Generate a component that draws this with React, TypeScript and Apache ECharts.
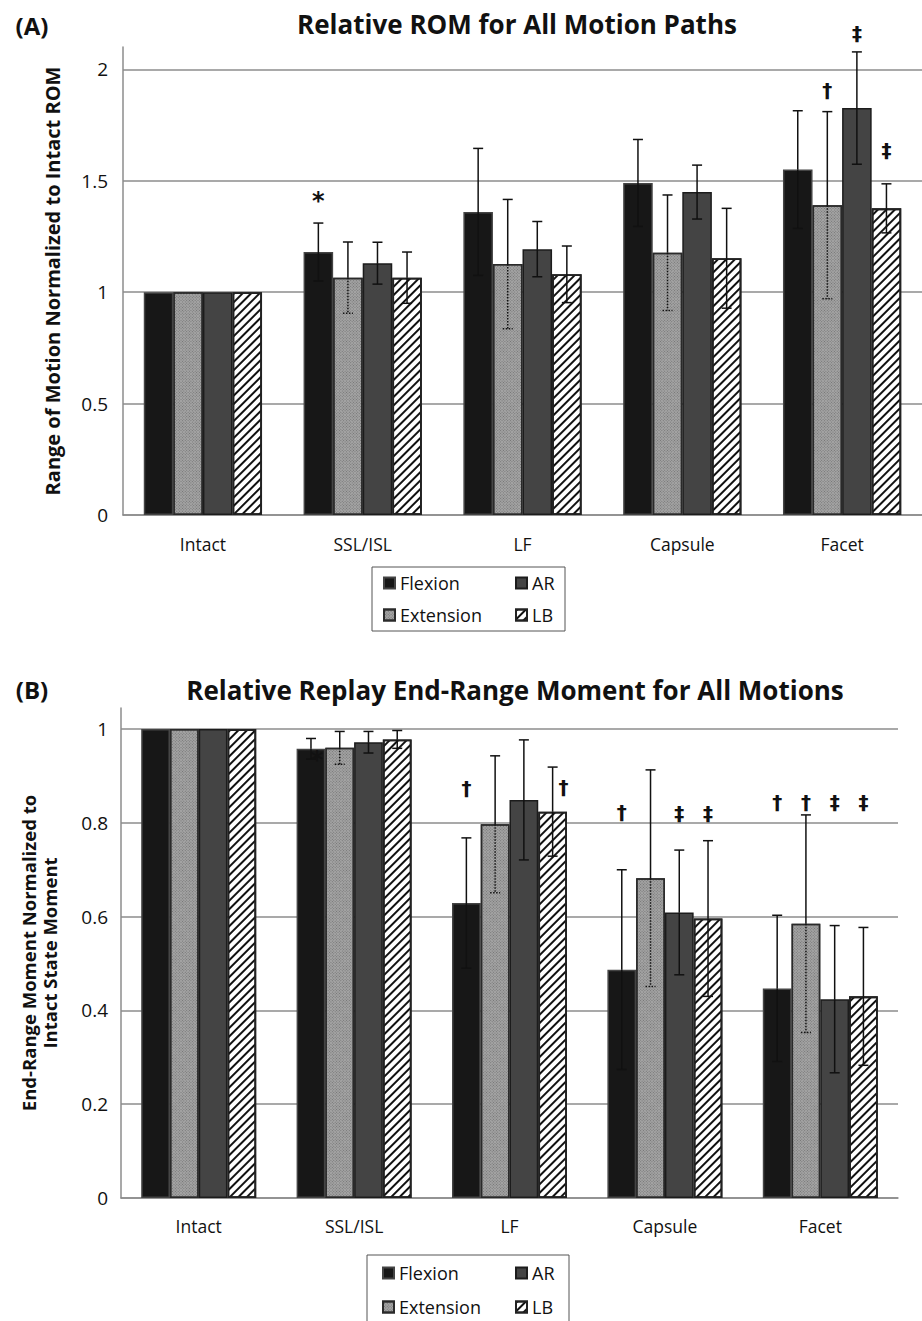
import React, { useEffect, useRef } from "react";
import * as echarts from "echarts";

// ---------- data ----------
const categories = ["Intact", "SSL/ISL", "LF", "Capsule", "Facet"];
const seriesNames = ["Flexion", "Extension", "AR", "LB"];

// Panel A: relative ROM (mean, SD)
const romFlexion = [1, 1.18, 1.36, 1.49, 1.55];
const romExtension = [1, 1.065, 1.126, 1.177, 1.39];
const romAR = [1, 1.13, 1.193, 1.449, 1.826];
const romLB = [1, 1.065, 1.08, 1.152, 1.376];
const romFlexionSD = [0, 0.13, 0.285, 0.195, 0.264];
const romExtensionSD = [0, 0.16, 0.29, 0.259, 0.42];
const romARSD = [0, 0.094, 0.124, 0.121, 0.252];
const romLBSD = [0, 0.115, 0.127, 0.224, 0.11];

// Panel B: relative end-range moment (mean, SD)
const momFlexion = [1, 0.958, 0.629, 0.487, 0.447];
const momExtension = [1, 0.96, 0.797, 0.682, 0.585];
const momAR = [1, 0.972, 0.849, 0.609, 0.424];
const momLB = [1, 0.978, 0.824, 0.596, 0.43];
const momFlexionSD = [0, 0.022, 0.139, 0.213, 0.156];
const momExtensionSD = [0, 0.035, 0.146, 0.231, 0.232];
const momARSD = [0, 0.023, 0.128, 0.133, 0.157];
const momLBSD = [0, 0.019, 0.095, 0.166, 0.147];

// significance markers: category index, series index, y value, symbol
const romAnnCat = [1, 4, 4, 4];
const romAnnSeries = [0, 1, 2, 3];
const romAnnY = [1.41, 1.907, 2.162, 1.637];
const romAnnSym = ["*", "†", "‡", "‡"];
const romAnnDx = [0, 0, 0, 0];

const momAnnCat = [1, 2, 2, 3, 3, 3, 4, 4, 4, 4];
const momAnnSeries = [0, 0, 3, 0, 2, 3, 0, 1, 2, 3];
const momAnnY = [0.935, 0.875, 0.877, 0.824, 0.822, 0.822, 0.845, 0.845, 0.845, 0.845];
const momAnnSym = ["*", "†", "†", "†", "‡", "‡", "†", "†", "‡", "‡"];
const momAnnDx = [6, 0, 11, 0, 0, 0, 0, 0, 0, 0];

const romTitle = "Relative ROM for All Motion Paths";
const momTitle = "Relative Replay End-Range Moment for All Motions";
const romYName = "Range of Motion Normalized to Intact ROM";
const momYName = "End-Range Moment Normalized to\nIntact State Moment";

// ---------- styles ----------
const FONT = '"Open Sans", Lato, sans-serif';
const GAP = 0.26;
const GRID_COLOR = "#8c8c8c";

const itemStyles: any[] = [
  { color: "#171717", borderColor: "#444444", borderWidth: 1.5 },
  {
    color: "#a4a4a4",
    borderColor: "#2a2a2a",
    borderWidth: 1.5,
    decal: {
      symbol: "rect",
      symbolSize: 1,
      dashArrayX: [1, 1],
      dashArrayY: [1, 1],
      rotation: Math.PI / 4,
      color: "#747474",
    },
  },
  { color: "#444444", borderColor: "#1c1c1c", borderWidth: 1.5 },
  {
    color: "#ffffff",
    borderColor: "#222222",
    borderWidth: 1.8,
    decal: {
      symbol: "rect",
      symbolSize: 1,
      dashArrayX: [1, 0],
      dashArrayY: [2, 3.5],
      rotation: -Math.PI / 4,
      color: "#111111",
    },
  },
];

function barX(api: any, cat: number, s: number, v: number) {
  const c = api.coord([cat, v]);
  const band = api.size([1, 0])[0];
  const gw = band * (1 - GAP);
  const bw = gw / 4;
  return c[0] - gw / 2 + bw * (s + 0.5);
}

function errorRender(params: any, api: any) {
  const cat = api.value(0);
  const s = api.value(1);
  const m = api.value(2);
  const e = api.value(3);
  if (!e) return { type: "group", children: [] };
  const x = barX(api, cat, s, m);
  const yM = api.coord([cat, m])[1];
  const yT = api.coord([cat, m + e])[1];
  const yB = api.coord([cat, m - e])[1];
  const cap = 5;
  const solid = { stroke: "#111", lineWidth: 1.5 };
  const dashed = s === 1 ? { stroke: "#111", lineWidth: 1.5, lineDash: [1.5, 1.5] } : solid;
  return {
    type: "group",
    children: [
      { type: "line", shape: { x1: x, y1: yM, x2: x, y2: yT }, style: solid },
      { type: "line", shape: { x1: x, y1: yM, x2: x, y2: yB }, style: dashed },
      { type: "line", shape: { x1: x - cap, y1: yT, x2: x + cap, y2: yT }, style: solid },
      { type: "line", shape: { x1: x - cap, y1: yB, x2: x + cap, y2: yB }, style: dashed },
    ],
  };
}

function annRender(syms: string[]) {
  return (params: any, api: any) => {
    const cat = api.value(0);
    const s = api.value(1);
    const y = api.value(2);
    const dx = api.value(3);
    const x = barX(api, cat, s, y) + dx;
    const py = api.coord([cat, y])[1];
    const sym = syms[params.dataIndex];
    return {
      type: "text",
      x,
      y: py,
      style: {
        text: sym,
        fill: "#111",
        fontSize: sym === "*" ? 24 : 20,
        fontWeight: "bold",
        fontFamily: "DejaVu Sans",
        align: "center",
        verticalAlign: "middle",
        textAlign: "center",
        textVerticalAlign: "middle",
      },
    };
  };
}

function buildPanel(
  idx: number,
  means: number[][],
  sds: number[][],
  annCat: number[],
  annSeries: number[],
  annY: number[],
  annSym: string[],
  annDx: number[]
) {
  const series: any[] = means.map((arr, s) => ({
    type: "bar",
    name: seriesNames[s],
    xAxisIndex: idx,
    yAxisIndex: idx,
    data: arr,
    barGap: "0%",
    barCategoryGap: GAP * 100 + "%",
    itemStyle: itemStyles[s],
    silent: true,
  }));
  const errData: number[][] = [];
  means.forEach((arr, s) => arr.forEach((m, c) => errData.push([c, s, m, sds[s][c]])));
  series.push({
    type: "custom",
    name: "err" + idx,
    xAxisIndex: idx,
    yAxisIndex: idx,
    data: errData,
    encode: { x: 0, y: 2 },
    renderItem: errorRender,
    silent: true,
    z: 5,
  });
  series.push({
    type: "custom",
    name: "ann" + idx,
    xAxisIndex: idx,
    yAxisIndex: idx,
    data: annCat.map((c, i) => [c, annSeries[i], annY[i], annDx[i]]),
    encode: { x: 0, y: 2 },
    renderItem: annRender(annSym),
    silent: true,
    clip: false,
    z: 6,
  });
  return series;
}

export default function App() {
  const ref = useRef<HTMLDivElement>(null);
  useEffect(() => {
    if (!ref.current) return;
    const chart = echarts.init(ref.current, undefined, { renderer: "svg" });

    const xAxisCommon = {
      type: "category",
      data: categories,
      axisLine: { lineStyle: { color: GRID_COLOR, width: 1.5 } },
      axisTick: { show: false },
      axisLabel: { color: "#111", fontSize: 17.5, fontFamily: FONT, margin: 14 },
    };
    const yAxisCommon = {
      type: "value",
      min: 0,
      axisLine: { show: true, lineStyle: { color: GRID_COLOR, width: 1.5 } },
      axisTick: { show: false },
      splitLine: { lineStyle: { color: GRID_COLOR, width: 1.5 }, showMaxLine: false },
      nameLocation: "middle",
      nameRotate: 90,
    };
    const tickLabel = { color: "#111", fontSize: 19, fontFamily: FONT, showMaxLabel: false };

    const legendText = { color: "#111", fontSize: 18, fontFamily: FONT, lineHeight: 20 };
    const legendCommon = {
      orient: "vertical",
      icon: "rect",
      itemWidth: 11,
      itemHeight: 11,
      padding: 0,
      selectedMode: false,
      textStyle: legendText,
    };

    const titleStyle = { fill: "#111", fontWeight: "bold", fontFamily: FONT, align: "center", verticalAlign: "middle", textAlign: "center", textVerticalAlign: "middle" };

    const option: any = {
      animation: false,
      backgroundColor: "#ffffff",
      textStyle: { fontFamily: FONT },
      grid: [
        { left: 123, right: 0, top: 47, bottom: 806 },
        { left: 121, right: 24, top: 708, bottom: 123 },
      ],
      xAxis: [
        { ...xAxisCommon, gridIndex: 0, axisLabel: { ...xAxisCommon.axisLabel, margin: 20 } },
        { ...xAxisCommon, gridIndex: 1, axisLabel: { ...xAxisCommon.axisLabel, margin: 19 } },
      ],
      yAxis: [
        {
          ...yAxisCommon,
          gridIndex: 0,
          max: 2.1,
          interval: 0.5,
          name: romYName,
          nameGap: 61,
          nameTextStyle: { color: "#111", fontSize: 20, fontWeight: "bold", fontFamily: FONT },
          axisLabel: { ...tickLabel, margin: 15 },
        },
        {
          ...yAxisCommon,
          gridIndex: 1,
          max: 1.045,
          interval: 0.2,
          name: momYName,
          nameGap: 61,
          nameTextStyle: { color: "#111", fontSize: 18.5, fontWeight: "bold", fontFamily: FONT, lineHeight: 21 },
          axisLabel: { ...tickLabel, margin: 13 },
        },
      ],
      legend: [
        { ...legendCommon, data: ["Flexion", "Extension"], left: 383, top: 573, itemGap: 12 },
        { ...legendCommon, data: ["AR", "LB"], left: 515, top: 573, itemGap: 12 },
        { ...legendCommon, data: ["Flexion", "Extension"], left: 382, top: 1263, itemGap: 14 },
        { ...legendCommon, data: ["AR", "LB"], left: 515, top: 1263, itemGap: 14 },
      ],
      graphic: [
        { type: "text", x: 32, y: 25, style: { ...titleStyle, text: "(A)", fontSize: 24 } },
        { type: "text", x: 517, y: 24, style: { ...titleStyle, text: romTitle, fontSize: 26 } },
        { type: "text", x: 32, y: 689, style: { ...titleStyle, text: "(B)", fontSize: 24 } },
        { type: "text", x: 515, y: 690, style: { ...titleStyle, text: momTitle, fontSize: 26 } },
        {
          type: "rect",
          shape: { x: 372, y: 567, width: 193, height: 64 },
          style: { fill: "none", stroke: "#555", lineWidth: 1 },
        },
        {
          type: "rect",
          shape: { x: 367, y: 1255, width: 202, height: 80 },
          style: { fill: "none", stroke: "#555", lineWidth: 1 },
        },
      ],
      series: [
        ...buildPanel(
          0,
          [romFlexion, romExtension, romAR, romLB],
          [romFlexionSD, romExtensionSD, romARSD, romLBSD],
          romAnnCat, romAnnSeries, romAnnY, romAnnSym, romAnnDx
        ),
        ...buildPanel(
          1,
          [momFlexion, momExtension, momAR, momLB],
          [momFlexionSD, momExtensionSD, momARSD, momLBSD],
          momAnnCat, momAnnSeries, momAnnY, momAnnSym, momAnnDx
        ),
      ],
    };
    chart.setOption(option);
    return () => chart.dispose();
  }, []);
  return (
    <div
      ref={ref}
      style={{ position: "absolute", left: 0, top: 0, width: 922, height: 1321, background: "#fff" }}
    />
  );
}
